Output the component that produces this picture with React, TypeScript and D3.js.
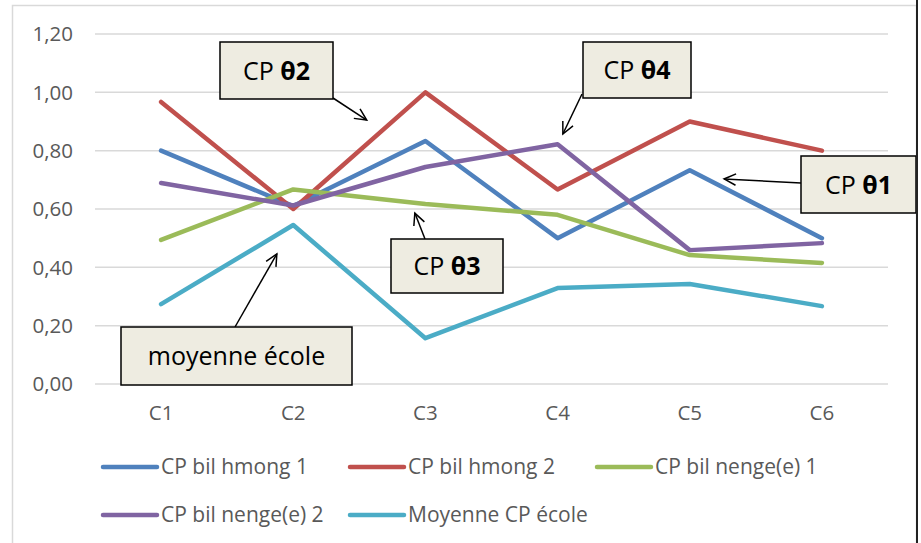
import React from "react";
import * as d3 from "d3";

const categories = ["C1", "C2", "C3", "C4", "C5", "C6"];
const seriesNames = ["CP bil hmong 1", "CP bil hmong 2", "CP bil nenge(e) 1", "CP bil nenge(e) 2", "Moyenne CP école"];
const hmong1 = [0.8, 0.61, 0.833, 0.5, 0.733, 0.5];
const hmong2 = [0.967, 0.6, 1.0, 0.667, 0.9, 0.8];
const nenge1 = [0.494, 0.667, 0.617, 0.58, 0.442, 0.415];
const nenge2 = [0.689, 0.612, 0.744, 0.822, 0.459, 0.483];
const moyenne = [0.274, 0.545, 0.157, 0.329, 0.343, 0.267];
const seriesValues = [hmong1, hmong2, nenge1, nenge2, moyenne];
const colors = ["#4F81BD", "#C0504D", "#9BBB59", "#8064A2", "#4BACC6"];
const yTicks = [0, 0.2, 0.4, 0.6, 0.8, 1.0, 1.2];

// callouts: label parts, arrow tip in data coords (category index, value)
const callouts = [
  { pre: "CP ", bold: "θ2", tipIdx: 1.556, tipVal: 0.905, box: [220, 42, 113, 57], from: [333, 98] },
  { pre: "CP ", bold: "θ4", tipIdx: 3.04, tipVal: 0.857, box: [583, 42, 108, 56], from: [582, 94] },
  { pre: "CP ", bold: "θ1", tipIdx: 4.26, tipVal: 0.703, box: [801, 156, 115, 57], from: [801, 183] },
  { pre: "CP ", bold: "θ3", tipIdx: 1.92, tipVal: 0.586, box: [391, 239, 112, 54], from: [425, 239] },
  { pre: "moyenne école", bold: "", tipIdx: 0.876, tipVal: 0.446, box: [121, 327, 231, 58], from: [235, 327] },
];

const W = 921;
const H = 543;
const plotL = 95;
const plotR = 888;
const plotT = 34;
const plotB = 384;
const FONT = "'Open Sans', 'Noto Sans', sans-serif";

export default function App() {
  const x = d3.scalePoint<string>().domain(categories).range([plotL, plotR]).padding(0.5);
  const step = x.step();
  const xIdx = (i: number) => (x(categories[0]) as number) + i * step;
  const y = d3.scaleLinear().domain([0, 1.2]).range([plotB, plotT]);
  const line = d3
    .line<number>()
    .x((_, i) => x(categories[i]) as number)
    .y((d) => y(d));
  const fmt = (v: number) => v.toFixed(2).replace(".", ",");

  const legendRows = [
    [0, 1, 2],
    [3, 4],
  ];
  const legendX = [103, 350, 597];
  const legendY = [467, 515];

  return (
    <svg width={W} height={H} style={{ position: "absolute", left: 0, top: 0, background: "#fff" }}>
      <rect x={12.5} y={5.5} width={904} height={560} fill="#fff" stroke="#D9D9D9" strokeWidth={1.5} />
      {yTicks.map((t) => (
        <g key={t}>
          <line x1={plotL} x2={plotR} y1={y(t)} y2={y(t)} stroke="#D9D9D9" strokeWidth={1.5} />
          <text x={73} y={y(t)} dy="0.35em" textAnchor="end" fontFamily={FONT} fontSize={20.5} fill="#595959">
            {fmt(t)}
          </text>
        </g>
      ))}
      {categories.map((c) => (
        <text key={c} x={x(c) as number} y={420} textAnchor="middle" fontFamily={FONT} fontSize={20.5} fill="#595959">
          {c}
        </text>
      ))}
      {seriesValues.map((vals, si) => (
        <path
          key={si}
          d={line(vals) || ""}
          fill="none"
          stroke={colors[si]}
          strokeWidth={4.5}
          strokeLinejoin="round"
          strokeLinecap="round"
        />
      ))}
      {callouts.map((c, i) => {
        const tx = xIdx(c.tipIdx);
        const ty = y(c.tipVal);
        const [fx, fy] = c.from;
        const ang = Math.atan2(ty - fy, tx - fx);
        const hl = 13;
        const ha = 0.45;
        const p1 = [tx - hl * Math.cos(ang - ha), ty - hl * Math.sin(ang - ha)];
        const p2 = [tx - hl * Math.cos(ang + ha), ty - hl * Math.sin(ang + ha)];
        const [bx, by, bw, bh] = c.box;
        return (
          <g key={i}>
            <line x1={fx} y1={fy} x2={tx} y2={ty} stroke="#000" strokeWidth={1.5} />
            <polyline
              points={`${p1[0]},${p1[1]} ${tx},${ty} ${p2[0]},${p2[1]}`}
              fill="none"
              stroke="#000"
              strokeWidth={1.5}
            />
            <rect x={bx} y={by} width={bw} height={bh} fill="#EEECE1" stroke="#000" strokeWidth={1.5} />
            <text
              x={bx + bw / 2}
              y={by + bh / 2}
              dy="0.36em"
              textAnchor="middle"
              fontFamily={FONT}
              fontSize={25}
              fill="#000"
            >
              {c.pre}
              {c.bold ? <tspan fontWeight="bold">{c.bold}</tspan> : null}
            </text>
          </g>
        );
      })}
      {legendRows.map((row, ri) =>
        row.map((si, ci) => (
          <g key={si}>
            <line
              x1={legendX[ci]}
              x2={legendX[ci] + 54}
              y1={legendY[ri]}
              y2={legendY[ri]}
              stroke={colors[si]}
              strokeWidth={4.5}
              strokeLinecap="round"
            />
            <text
              x={legendX[ci] + 58}
              y={legendY[ri]}
              dy="0.35em"
              fontFamily={FONT}
              fontSize={21}
              fill="#595959"
            >
              {seriesNames[si]}
            </text>
          </g>
        ))
      )}
      <line x1={917} x2={917} y1={0} y2={H} stroke="#222" strokeWidth={2} />
    </svg>
  );
}
